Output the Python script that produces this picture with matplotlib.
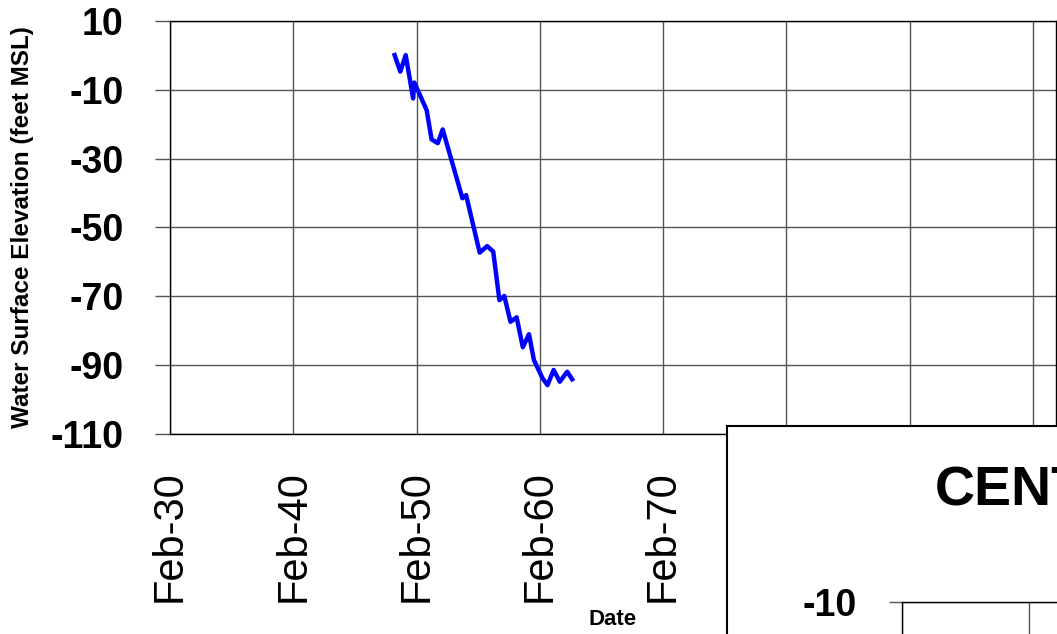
import matplotlib
matplotlib.use("Agg")
import matplotlib.pyplot as plt
from matplotlib.patches import Rectangle
from matplotlib.ticker import FixedLocator, FixedFormatter

plt.rcParams['font.family'] = ['Liberation Sans', 'DejaVu Sans']

# ---- data (decimal years, feet MSL) ----
years = [1948.3, 1948.76, 1949.2, 1949.8, 1949.9, 1950.9, 1951.3, 1951.8, 1952.2,
         1953.8, 1954.1, 1955.2, 1955.8, 1956.3, 1956.8, 1957.2, 1957.7, 1958.2,
         1958.7, 1959.2, 1959.6, 1960.3, 1960.7, 1961.2, 1961.7, 1962.3, 1962.7]
elevation = [0.1, -4.7, 0.1, -12.5, -7.9, -15.9, -24.4, -25.5, -21.5,
             -41.5, -40.6, -57.3, -55.4, -57.0, -71.1, -69.9, -77.4, -76.1,
             -84.8, -81.0, -88.5, -93.8, -95.8, -91.4, -94.8, -91.9, -94.1]

x_ticks = [1930.08, 1940.08, 1950.08, 1960.08, 1970.08, 1980.08, 1990.08, 2000.08]
x_tick_labels = ["Feb-30", "Feb-40", "Feb-50", "Feb-60", "Feb-70", "Feb-80", "Feb-90", "Feb-00"]
y_ticks = [10, -10, -30, -50, -70, -90, -110]
y_tick_labels = ["10", "-10", "-30", "-50", "-70", "-90", "-110"]

y_label = "Water Surface Elevation (feet MSL)"
x_label = "Date"
panel_title = "CENTRAL"

W, H = 1057, 634
fig = plt.figure(figsize=(W / 100, H / 100), dpi=100)

def frac(l, t, r, b):
    return [l / W, 1 - b / H, (r - l) / W, (b - t) / H]

grid_col = '#555555'

# ---- main axes ----
ax = fig.add_axes(frac(170, 21, 1056, 434))
ax.plot(years, elevation, color='#0000ff', lw=3.2, solid_joinstyle='round', zorder=3)
ax.set_xlim(1930.08, 2001.95)
ax.set_ylim(-110, 10)
ax.xaxis.set_major_locator(FixedLocator(x_ticks))
ax.xaxis.set_major_formatter(FixedFormatter(x_tick_labels))
ax.yaxis.set_major_locator(FixedLocator(y_ticks))
ax.yaxis.set_major_formatter(FixedFormatter(y_tick_labels))
ax.grid(True, color=grid_col, lw=1.0)
ax.set_axisbelow(True)
ax.tick_params(axis='x', length=0, pad=26, labelsize=30, labelrotation=90)
ax.tick_params(axis='y', length=10.5, width=1, color=grid_col, pad=23, labelsize=27)
for lbl in ax.get_yticklabels():
    lbl.set_fontweight('bold')
# labels of the ticks that sit behind the overlapping panel are not visible
for tk, lbl in zip(x_ticks, ax.get_xticklabels()):
    if tk > 1975:
        lbl.set_visible(False)
for s in ax.spines.values():
    s.set_color('black')
    s.set_linewidth(1.0)
ax.set_ylabel(y_label, fontsize=17.5, fontweight='bold')
ax.yaxis.set_label_coords(-0.153, 0.5)
ax.set_xlabel(x_label, fontsize=16, fontweight='bold')
ax.xaxis.set_label_coords(0.5, -0.423)

# ---- overlapping panel (second chart, cropped) ----
panel = Rectangle((727 / W, -0.2), 0.5, 1 - 426 / H + 0.2, transform=fig.transFigure,
                  facecolor='white', edgecolor='black', lw=1.5, zorder=1)
fig.add_artist(panel)

ax2 = fig.add_axes(frac(902, 602, 1220, 860))
ax2.set_zorder(2)
ax2.set_xlim(1930.08, 1930.08 + 318 / 12.7)
ax2.set_ylim(-90, -10)
ax2.xaxis.set_major_locator(FixedLocator(x_ticks[:3]))
ax2.yaxis.set_major_locator(FixedLocator(y_ticks[1:2]))
ax2.yaxis.set_major_formatter(FixedFormatter(y_tick_labels[1:2]))
ax2.grid(True, color=grid_col, lw=1.0)
ax2.tick_params(axis='x', length=0, labelbottom=False)
ax2.tick_params(axis='y', length=9.5, width=1, color=grid_col, pad=23, labelsize=27)
for lbl in ax2.get_yticklabels():
    lbl.set_fontweight('bold')
for s in ax2.spines.values():
    s.set_color('black')
    s.set_linewidth(1.0)

fig.text(935 / W, 1 - 492 / H, panel_title, fontsize=40, fontweight='bold',
         ha='left', va='center', zorder=3)

fig.savefig("out.png", dpi=100)
